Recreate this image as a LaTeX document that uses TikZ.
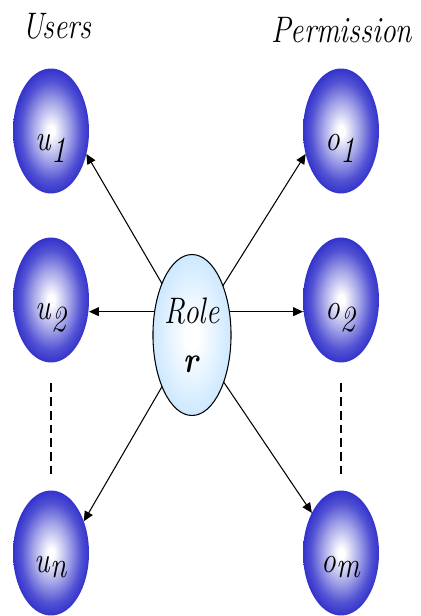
\documentclass[tikz,border=0pt]{standalone}
\usetikzlibrary{arrows.meta,shapes.geometric}

\definecolor{ublue}{RGB}{51,51,204}
\definecolor{rblue}{RGB}{204,232,255}
\pgfdeclareradialshading{ball}{\pgfpoint{0bp}{0bp}}{color(0bp)=(white); color(2bp)=(white); color(12bp)=(ublue!45); color(20bp)=(ublue!85); color(25bp)=(ublue); color(50bp)=(ublue)}
\pgfdeclareradialshading{roleball}{\pgfpoint{0bp}{0bp}}{color(0bp)=(white); color(4bp)=(white); color(25bp)=(rblue); color(50bp)=(rblue)}
\newcommand{\nrw}[1]{\scalebox{0.8}[1]{#1}}
\newcommand{\elbl}[2]{\raisebox{-11pt}[0pt][0pt]{\nrw{\textit{#1}$_{\textit{#2}}$}}}

\begin{document}
\begin{tikzpicture}[x=0.02cm,y=-0.02cm,
    font=\fontsize{21}{28}\selectfont,
    ball/.style={ellipse,shading=ball,minimum width=1.52cm,minimum height=2.5cm,inner sep=0pt,outer sep=0pt},
    conn/.style={line width=0.6pt,-{Triangle[length=2mm,width=1.8mm]}},
    gap/.style={line width=1.1pt,dash pattern=on 5pt off 2.8pt}]
  \useasboundingbox (0,0) rectangle (420,616);

  \node[anchor=base] (users) at (57,38) {\nrw{\textit{Users}}};
  \node[anchor=base] (perms) at (342,42) {\nrw{\textit{Permission}}};

  \node[ball] (u1) at (51,131) {\elbl{u}{1}};
  \node[ball] (u2) at (51,300) {\elbl{u}{2}};
  \node[ball] (un) at (51,553) {\elbl{u}{n}};
  \node[ball] (o1) at (341,131) {\elbl{o}{1}};
  \node[ball] (o2) at (341,300) {\elbl{o}{2}};
  \node[ball] (om) at (341,553) {\elbl{o}{m}};

  \node[ellipse,draw,line width=0.6pt,shading=roleball,minimum width=1.56cm,minimum height=3.22cm,
        inner sep=0pt,outer sep=0pt,align=center] (role) at (192,335) {\nrw{\textit{Role}}\\ \nrw{\textbf{\textit{r}}}};

  % role to users / permissions
  \draw[conn] (role) -- (u1.-33);
  \draw[conn] (role) -- (o1.213);
  \draw[conn] (role.148) -- (role.148 -| u2.east);
  \draw[conn] (role.32) -- (role.32 -| o2.west);
  \draw[conn] (role) -- (un.44);
  \draw[conn] (role) -- (om.126);

  \draw[gap,shorten <=0.42cm,shorten >=0.24cm] (u2) -- (un);
  \draw[gap,shorten <=0.42cm,shorten >=0.24cm] (o2) -- (om);
\end{tikzpicture}
\end{document}
